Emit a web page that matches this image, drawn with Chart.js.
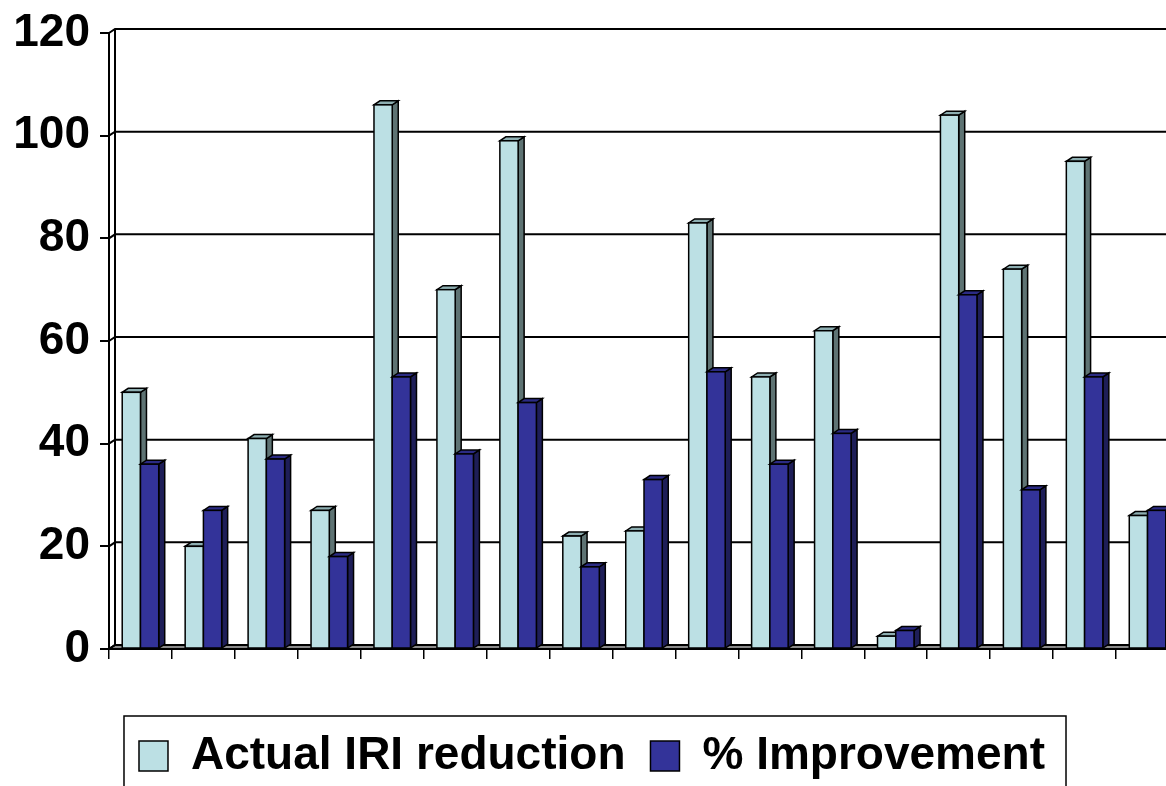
<!DOCTYPE html>
<html>
<head>
<meta charset="utf-8">
<script src="https://cdn.jsdelivr.net/npm/chart.js@4.4.1/dist/chart.umd.min.js"></script>
<style>
  html, body { margin: 0; padding: 0; background: #ffffff; overflow: hidden; width: 1166px; height: 786px; }
  #wrap { position: absolute; left: 0; top: 0; width: 1190px; height: 800px; }
</style>
</head>
<body>
<div id="wrap"><canvas id="chart" width="1184" height="800"></canvas></div>
<script>
// Road sections (category axis has no printed labels)
const sections = ['1', '2', '3', '4', '5', '6', '7', '8', '9', '10', '11', '12', '13', '14', '15', '16', '17'];

// Series values
const iriReduction   = [50, 20, 41, 27, 106, 70, 99, 22, 23, 83, 53, 62, 2.5, 104, 74, 95, 26];
const pctImprovement = [36, 27, 37, 18, 53, 38, 48, 16, 33, 54, 36, 42, 3.6, 69, 31, 53, 27];

// Value axis ticks
const yTickValues = [0, 20, 40, 60, 80, 100, 120];

const seriesNames = ['Actual IRI reduction', '% Improvement'];

// Offset of the back plane (pseudo-3D depth)
const DX = 6, DY = -4;

const faceColors = [
  { front: '#BCE0E4', top: '#8DAEB1', side: '#5E7373' },
  { front: '#333399', top: '#2B2B84', side: '#1E1E58' }
];

const FONT = "'Liberation Sans', Arial, sans-serif";

// Back wall, floor and gridlines drawn on the back plane
const wallPlugin = {
  id: 'wall3d',
  beforeDatasetsDraw(chart) {
    const { ctx, chartArea: a, scales: { y } } = chart;
    ctx.save();
    ctx.strokeStyle = '#000';
    ctx.lineWidth = 2;
    // floor
    ctx.fillStyle = '#8a8a8a';
    ctx.beginPath();
    ctx.moveTo(a.left, a.bottom);
    ctx.lineTo(a.right, a.bottom);
    ctx.lineTo(a.right + DX, a.bottom + DY);
    ctx.lineTo(a.left + DX, a.bottom + DY);
    ctx.closePath();
    ctx.fill();
    ctx.stroke();
    // gridlines on the back wall, joined to the front ticks
    yTickValues.forEach(v => {
      const py = y.getPixelForValue(v);
      ctx.beginPath();
      ctx.moveTo(a.left, py);
      ctx.lineTo(a.left + DX, py + DY);
      ctx.lineTo(a.right + DX, py + DY);
      ctx.stroke();
    });
    // back wall vertical edge
    ctx.beginPath();
    ctx.moveTo(a.left + DX, y.getPixelForValue(yTickValues[yTickValues.length - 1]) + DY);
    ctx.lineTo(a.left + DX, a.bottom + DY);
    ctx.stroke();
    ctx.restore();
  }
};

// Bars drawn as boxes: front, top and side faces
const boxPlugin = {
  id: 'box3d',
  afterDatasetsDraw(chart) {
    const { ctx } = chart;
    const metas = [chart.getDatasetMeta(0), chart.getDatasetMeta(1)];
    ctx.save();
    ctx.strokeStyle = '#000';
    ctx.lineWidth = 1.5;
    ctx.lineJoin = 'miter';
    for (let i = 0; i < sections.length; i++) {
      for (let d = 0; d < metas.length; d++) {
        const el = metas[d].data[i];
        const { x, y, base, width } = el.getProps(['x', 'y', 'base', 'width'], true);
        const L = x - width / 2, R = x + width / 2, T = y, B = base;
        const c = faceColors[d];
        // side
        ctx.fillStyle = c.side;
        ctx.beginPath();
        ctx.moveTo(R, T);
        ctx.lineTo(R + DX, T + DY);
        ctx.lineTo(R + DX, B + DY);
        ctx.lineTo(R, B);
        ctx.closePath();
        ctx.fill();
        ctx.stroke();
        // top
        ctx.fillStyle = c.top;
        ctx.beginPath();
        ctx.moveTo(L, T);
        ctx.lineTo(R, T);
        ctx.lineTo(R + DX, T + DY);
        ctx.lineTo(L + DX, T + DY);
        ctx.closePath();
        ctx.fill();
        ctx.stroke();
        // front
        ctx.fillStyle = c.front;
        ctx.fillRect(L, T, R - L, B - T);
        ctx.strokeRect(L, T, R - L, B - T);
      }
    }
    ctx.restore();
  }
};

// Frame around the legend entries
const legendFramePlugin = {
  id: 'legendFrame',
  afterDraw(chart) {
    const lg = chart.legend;
    if (!lg || !lg.legendHitBoxes || !lg.legendHitBoxes.length) return;
    const hb = lg.legendHitBoxes;
    const last = hb[hb.length - 1];
    const left = hb[0].left - 15;
    const right = last.left + last.width + 21;
    const { ctx } = chart;
    ctx.save();
    ctx.strokeStyle = '#000';
    ctx.lineWidth = 1.5;
    ctx.strokeRect(left, lg.top + 8, right - left, chart.height);
    ctx.restore();
  }
};

new Chart(document.getElementById('chart'), {
  type: 'bar',
  data: {
    labels: sections,
    datasets: [
      {
        label: seriesNames[0],
        data: iriReduction,
        backgroundColor: faceColors[0].front,
        borderColor: '#000',
        borderWidth: 1.5
      },
      {
        label: seriesNames[1],
        data: pctImprovement,
        backgroundColor: faceColors[1].front,
        borderColor: '#000',
        borderWidth: 1.5
      }
    ]
  },
  options: {
    responsive: false,
    animation: false,
    devicePixelRatio: 1,
    layout: { padding: { top: 26, left: 5, right: 5, bottom: 11 } },
    datasets: {
      bar: { categoryPercentage: 0.58, barPercentage: 1.0 }
    },
    plugins: {
      tooltip: { enabled: false },
      legend: {
        position: 'bottom',
        align: 'center',
        labels: {
          color: '#000',
          font: { family: FONT, size: 46, weight: 'bold' },
          boxWidth: 29,
          boxHeight: 30,
          padding: 25
        }
      }
    },
    scales: {
      x: {
        grid: {
          display: true,
          offset: true,
          drawOnChartArea: false,
          drawTicks: true,
          tickLength: 10,
          color: '#000',
          lineWidth: 1.5
        },
        border: { display: true, color: '#000', width: 2 },
        ticks: { display: false },
        afterFit(scale) { scale.height = 59; }
      },
      y: {
        min: 0,
        max: 120,
        afterBuildTicks(scale) { scale.ticks = yTickValues.map(v => ({ value: v })); },
        grid: {
          display: true,
          drawOnChartArea: false,
          drawTicks: true,
          tickLength: 9,
          color: '#000',
          lineWidth: 2
        },
        border: { display: true, color: '#000', width: 2 },
        ticks: {
          color: '#000',
          padding: 10,
          font: { family: FONT, size: 46, weight: 'bold', lineHeight: 1 }
        },
        afterFit(scale) { scale.width = 104; }
      }
    }
  },
  plugins: [wallPlugin, boxPlugin, legendFramePlugin]
});
</script>
</body>
</html>
